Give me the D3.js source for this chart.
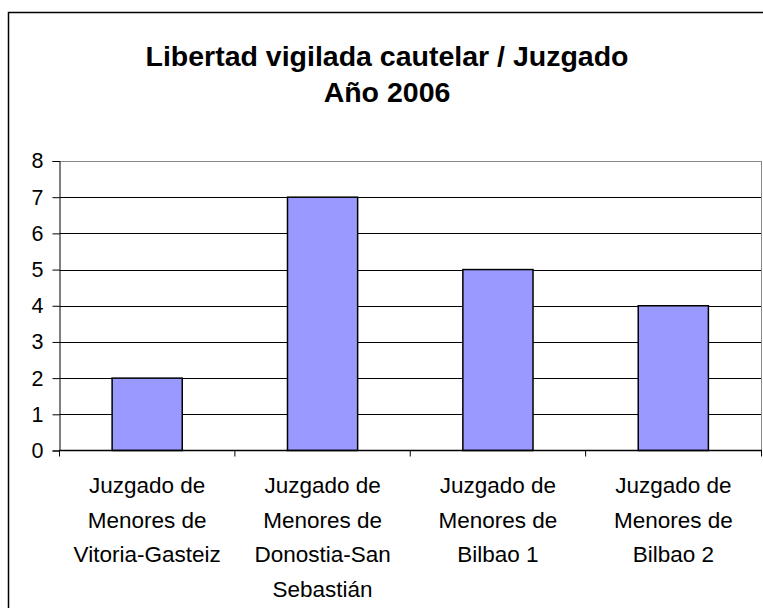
<!DOCTYPE html>
<html>
<head>
<meta charset="utf-8">
<script src="https://cdn.jsdelivr.net/npm/d3@7"></script>
<style>
  body { margin: 0; background: #fff; }
  text { font-family: "Liberation Sans", Arial, sans-serif; fill: #000; }
</style>
</head>
<body>
<div id="app"></div>
<script>
const categories = [
  ['Juzgado de', 'Menores de', 'Vitoria-Gasteiz'],
  ['Juzgado de', 'Menores de', 'Donostia-San', 'Sebastián'],
  ['Juzgado de', 'Menores de', 'Bilbao 1'],
  ['Juzgado de', 'Menores de', 'Bilbao 2']
]
const values = [2, 7, 5, 4]
const yTicks = [0, 1, 2, 3, 4, 5, 6, 7, 8]
const titleLines = ['Libertad vigilada cautelar / Juzgado', 'Año 2006']

const W = 763, H = 608
const plot = { left: 59.5, right: 761, top: 161, bottom: 450.5 }

const svg = d3.select('#app')
  .append('svg')
  .attr('width', W)
  .attr('height', H)

// outer chart border (runs off the right and bottom)
svg.append('rect')
  .attr('x', 8.5).attr('y', 12.5)
  .attr('width', 800).attr('height', 700)
  .attr('fill', '#fff')
  .attr('stroke', '#000')
  .attr('stroke-width', 1.5)

svg.append('g')
  .selectAll('text')
  .data(titleLines)
  .join('text')
  .attr('x', 387)
  .attr('y', (d, i) => 66 + i * 36)
  .attr('text-anchor', 'middle')
  .attr('font-size', 28.5)
  .attr('font-weight', 'bold')
  .text(d => d)

const x = d3.scaleBand()
  .domain(d3.range(values.length))
  .range([plot.left, plot.right])

const y = d3.scaleLinear()
  .domain([0, 8])
  .range([plot.bottom, plot.top])

// gridlines
svg.append('g')
  .selectAll('line')
  .data(yTicks.filter(d => d > 0))
  .join('line')
  .attr('x1', plot.left).attr('x2', plot.right)
  .attr('y1', d => Math.round(y(d)) + 0.5)
  .attr('y2', d => Math.round(y(d)) + 0.5)
  .attr('stroke', d => d === 8 ? '#888' : '#000')
  .attr('stroke-width', 1)

// right edge of plot area
svg.append('line')
  .attr('x1', plot.right + 0.5).attr('x2', plot.right + 0.5)
  .attr('y1', y(8)).attr('y2', plot.bottom)
  .attr('stroke', '#888')

const barW = x.bandwidth() * 0.4
svg.append('g')
  .selectAll('rect')
  .data(values)
  .join('rect')
  .attr('x', (d, i) => x(i) + (x.bandwidth() - barW) / 2)
  .attr('y', d => y(d))
  .attr('width', barW)
  .attr('height', d => plot.bottom - y(d))
  .attr('fill', '#9999ff')
  .attr('stroke', '#000')
  .attr('stroke-width', 1.5)

// y axis
const yAxis = svg.append('g')
  .attr('transform', `translate(${plot.left},0)`)
  .call(d3.axisLeft(y).tickValues(yTicks).tickSize(7).tickPadding(9))
yAxis.select('.domain').attr('stroke', '#000')
yAxis.selectAll('.tick line').attr('stroke', '#000')
yAxis.selectAll('.tick text')
  .attr('font-size', 21.5)
  .attr('font-family', '"Liberation Sans", Arial, sans-serif')

// x axis with ticks between categories
const xAxis = svg.append('g')
  .attr('transform', `translate(0,${plot.bottom})`)
xAxis.append('line')
  .attr('x1', plot.left).attr('x2', plot.right + 1)
  .attr('stroke', '#000').attr('stroke-width', 1.5)
xAxis.selectAll('line.tk')
  .data(d3.range(values.length + 1))
  .join('line')
  .attr('class', 'tk')
  .attr('x1', i => i < values.length ? x(i) : plot.right + 0.5)
  .attr('x2', i => i < values.length ? x(i) : plot.right + 0.5)
  .attr('y1', 0).attr('y2', 6)
  .attr('stroke', '#000')

const labels = svg.append('g')
  .selectAll('text')
  .data(categories)
  .join('text')
  .attr('text-anchor', 'middle')
  .attr('font-size', 22.5)
labels.selectAll('tspan')
  .data((d, i) => d.map(s => ({ s, i })))
  .join('tspan')
  .attr('x', d => x(d.i) + x.bandwidth() / 2)
  .attr('y', (d, j) => 493 + j * 34.5)
  .text(d => d.s)
</script>
</body>
</html>
